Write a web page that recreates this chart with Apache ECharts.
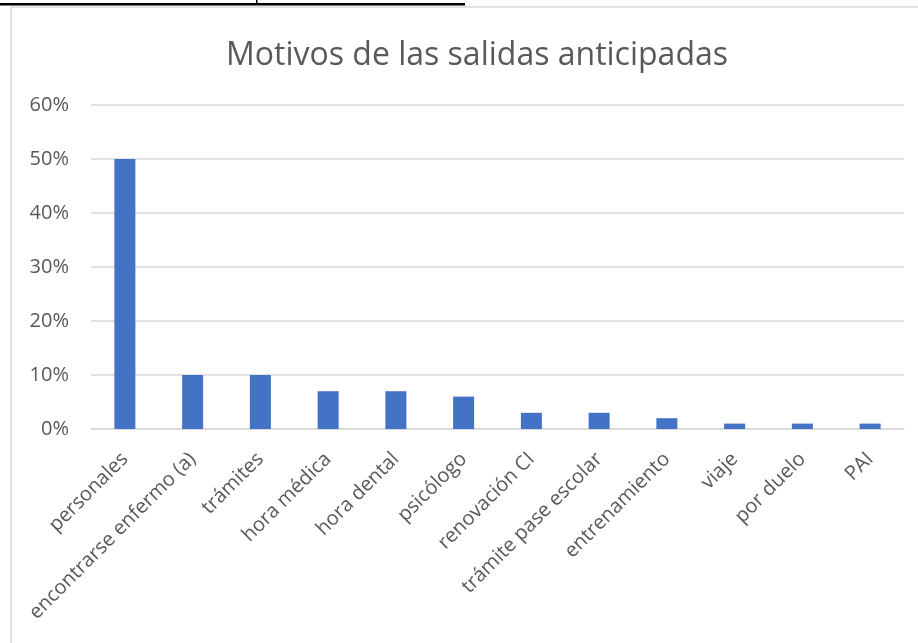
<!DOCTYPE html>
<html>
<head>
<meta charset="utf-8">
<script src="https://cdn.jsdelivr.net/npm/echarts@6/dist/echarts.min.js"></script>
<style>
  html, body { margin: 0; padding: 0; background: #fff; }
  #chart { width: 918px; height: 643px; }
</style>
</head>
<body>
<div id="chart"></div>
<script>
const categories = [
  "personales", "encontrarse enfermo (a)", "trámites", "hora médica",
  "hora dental", "psicólogo", "renovación CI", "trámite pase escolar",
  "entrenamiento", "viaje", "por duelo", "PAI"
];
const percentages = [50, 10, 10, 7, 7, 6, 3, 3, 2, 1, 1, 1];
const yTicks = [0, 10, 20, 30, 40, 50, 60];

const font = "'Open Sans', 'Noto Sans', sans-serif";
const myChart = echarts.init(document.getElementById("chart"));

const option = {
  animation: false,
  title: {
    text: "Motivos de las salidas anticipadas",
    left: 472,
    top: 35,
    textAlign: "center",
    textStyle: { fontFamily: font, fontSize: 32, fontWeight: "normal", color: "#595959" }
  },
  graphic: [
    { type: "rect", shape: { x: 11, y: 7, width: 920, height: 650 },
      style: { fill: "none", stroke: "#d9d9d9", lineWidth: 1.5 } },
    { type: "rect", shape: { x: 0, y: 3, width: 465, height: 2.5 }, style: { fill: "#000" } },
    { type: "rect", shape: { x: 256, y: 0, width: 1.5, height: 4 }, style: { fill: "#000" } }
  ],
  grid: { left: 91, right: 14, top: 105, bottom: 214, containLabel: false },
  xAxis: {
    type: "category",
    data: categories,
    axisLine: { lineStyle: { color: "#d9d9d9", width: 1.5 } },
    axisTick: { show: false },
    axisLabel: {
      interval: 0,
      rotate: 45,
      margin: 27,
      fontFamily: font,
      fontSize: 20,
      color: "#595959"
    }
  },
  yAxis: {
    type: "value",
    min: yTicks[0],
    max: yTicks[yTicks.length - 1],
    interval: 10,
    axisLine: { show: false },
    axisTick: { show: false },
    splitLine: { lineStyle: { color: "#d9d9d9", width: 1.5 } },
    axisLabel: {
      formatter: v => v + "%",
      margin: 22,
      fontFamily: font,
      fontSize: 20,
      color: "#595959"
    }
  },
  series: [
    {
      type: "bar",
      data: percentages,
      barWidth: 21,
      itemStyle: { color: "#4472C4" }
    }
  ]
};

option && myChart.setOption(option);
</script>
</body>
</html>
